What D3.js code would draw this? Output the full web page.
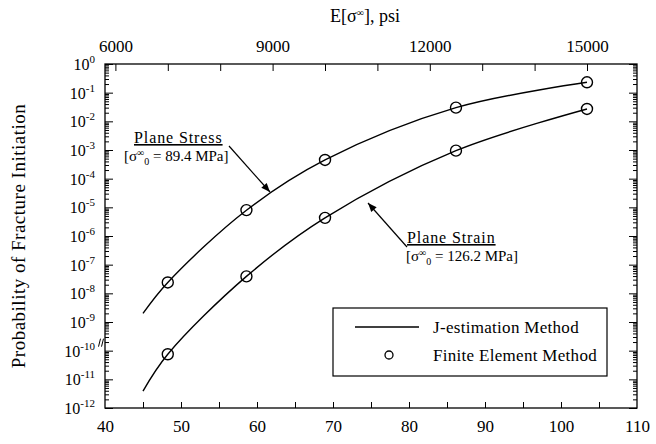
<!DOCTYPE html>
<html>
<head>
<meta charset="utf-8">
<script src="https://cdn.jsdelivr.net/npm/d3@7"></script>
<style>
  body { margin: 0; background: #fff; }
</style>
</head>
<body>
<div id="chart"></div>
<script>
// stress in MPa where FE analyses were run (7000, 8500, 10000, 12500, 15000 psi)
const feStress = [48.26, 58.61, 68.95, 86.18, 103.42];
const fePlaneStress = [2.4e-8, 8e-6, 4.5e-4, 3.0e-2, 0.23];
const fePlaneStrain = [7.5e-11, 3.9e-8, 4.3e-6, 9.5e-4, 2.7e-2];

// J-estimation curves
const curveStress = [45, 48.26, 58.61, 68.95, 86.18, 103.42];
const curvePlaneStress = [2.0e-9, 2.4e-8, 7.9e-6, 4.5e-4, 3.0e-2, 0.23];
const curvePlaneStrain = [3.9e-12, 7.5e-11, 3.9e-8, 4.3e-6, 9.5e-4, 2.7e-2];

const xTicks = [40, 50, 60, 70, 80, 90, 100, 110];
const psiTicks = [6000, 9000, 12000, 15000];
const yExponents = [0, -1, -2, -3, -4, -5, -6, -7, -8, -9, -10, -11, -12];

const width = 656, height = 444;
const margin = { left: 105, right: 19, top: 64, bottom: 36 };
const MPA_TO_PSI = 145.038;
const FONT = '"Liberation Serif", "DejaVu Serif", "Times New Roman", serif';

const svg = d3.select('#chart').append('svg')
    .attr('width', width)
    .attr('height', height)
    .attr('font-family', FONT);

const x = d3.scaleLinear().domain([40, 110]).range([margin.left, width - margin.right]);
const xPsi = d3.scaleLinear().domain([40 * MPA_TO_PSI, 110 * MPA_TO_PSI]).range(x.range());
const y = d3.scaleLog().domain([1e-12, 1]).range([height - margin.bottom, margin.top]);

const x0 = x.range()[0], x1 = x.range()[1];
const yTop = y.range()[1], yBot = y.range()[0];

// frame
svg.append('rect')
    .attr('x', x0).attr('y', yTop)
    .attr('width', x1 - x0).attr('height', yBot - yTop)
    .attr('fill', 'none').attr('stroke', '#000').attr('stroke-width', 1.3);

function styleAxis(g) {
    g.select('.domain').remove();
    g.attr('font-family', FONT);
    g.selectAll('.tick line').attr('stroke', '#000').attr('stroke-width', 1);
    g.selectAll('.tick text').attr('fill', '#000');
}

// bottom axis: ticks every 5 MPa, labels every 10
const minorX = d3.range(45, 110, 5);
svg.append('g')
    .attr('transform', `translate(0,${yBot})`)
    .call(d3.axisBottom(x).tickValues(minorX).tickSize(-6).tickFormat(''))
    .call(styleAxis);
svg.append('g')
    .attr('transform', `translate(0,${yBot})`)
    .call(d3.axisBottom(x).tickValues(xTicks).tickSize(0).tickPadding(12).tickFormat(d3.format('d')))
    .call(styleAxis)
    .selectAll('text').attr('font-size', 17);

// top axis in psi
svg.append('g')
    .attr('transform', `translate(0,${yTop})`)
    .call(d3.axisTop(xPsi).tickValues(d3.range(6000, 15001, 1000)).tickSize(-7).tickFormat(''))
    .call(styleAxis);
svg.append('g')
    .attr('transform', `translate(0,${yTop})`)
    .call(d3.axisTop(xPsi).tickValues(psiTicks).tickSize(0).tickPadding(12).tickFormat(d3.format('d')))
    .call(styleAxis)
    .selectAll('text').attr('font-size', 17);

const title = svg.append('text')
    .attr('x', (x0 + x1) / 2 - 6).attr('y', 22)
    .attr('text-anchor', 'middle').attr('font-size', 18);
title.append('tspan').text('E[σ');
title.append('tspan').attr('font-size', 10).attr('dy', -6).text('∞');
title.append('tspan').attr('dy', 6).text('], psi');

// y axis, log ticks both sides
const majorY = yExponents.map(e => Math.pow(10, e));
const minorY = [];
yExponents.slice(0, -1).forEach(e => {
    for (let m = 2; m < 10; m++) minorY.push(m * Math.pow(10, e - 1));
});
[[d3.axisLeft, x0], [d3.axisRight, x1]].forEach(([axisFn, pos]) => {
    svg.append('g')
        .attr('transform', `translate(${pos},0)`)
        .call(axisFn(y).tickValues(minorY).tickSize(-4).tickFormat(''))
        .call(styleAxis);
    svg.append('g')
        .attr('transform', `translate(${pos},0)`)
        .call(axisFn(y).tickValues(majorY).tickSize(-8).tickFormat(''))
        .call(styleAxis);
});

const yLabels = svg.append('g');
yExponents.forEach(e => {
    const t = yLabels.append('text')
        .attr('x', x0 - 10).attr('y', y(Math.pow(10, e)) + 6)
        .attr('text-anchor', 'end').attr('font-size', 16);
    t.append('tspan').text('10');
    t.append('tspan').attr('font-size', 11).attr('dy', -7).text(String(e));
});

// small double stroke beside the axis near 1e-10
const brk = svg.append('g').attr('stroke', '#000').attr('stroke-width', 1);
[-1.5, 1.5].forEach(dx => {
    const cx = x0 - 4 + dx, cy = y(1e-10) - 8;
    brk.append('line')
        .attr('x1', cx + 1).attr('y1', cy - 4)
        .attr('x2', cx - 1).attr('y2', cy + 4);
});

svg.append('text')
    .attr('transform', `translate(25,${(yTop + yBot) / 2}) rotate(-90)`)
    .attr('text-anchor', 'middle').attr('font-size', 19)
    .attr('letter-spacing', 0.5)
    .text('Probability of Fracture Initiation');

// J-estimation curves
const line = d3.line()
    .x(d => x(d[0]))
    .y(d => y(d[1]))
    .curve(d3.curveCatmullRom.alpha(0.5));

[curvePlaneStress, curvePlaneStrain].forEach(vals => {
    svg.append('path')
        .datum(curveStress.map((s, i) => [s, vals[i]]))
        .attr('d', line)
        .attr('fill', 'none').attr('stroke', '#000').attr('stroke-width', 1.4);
});

// finite element points
[fePlaneStress, fePlaneStrain].forEach(vals => {
    svg.append('g').selectAll('circle')
        .data(feStress.map((s, i) => [s, vals[i]]))
        .enter().append('circle')
        .attr('cx', d => x(d[0])).attr('cy', d => y(d[1]))
        .attr('r', 5.5)
        .attr('fill', 'none').attr('stroke', '#000').attr('stroke-width', 1.4);
});

// annotations
svg.append('defs').append('marker')
    .attr('id', 'arrow').attr('viewBox', '0 0 10 10')
    .attr('refX', 10).attr('refY', 5)
    .attr('markerWidth', 11).attr('markerHeight', 9)
    .attr('markerUnits', 'userSpaceOnUse')
    .attr('orient', 'auto')
    .append('path').attr('d', 'M0,1 L10,5 L0,9 Z').attr('fill', '#000');

function annotate(label, sub, tx, ty, sx, from, to) {
    const g = svg.append('g');
    g.append('text').attr('x', tx).attr('y', ty).attr('font-size', 16)
        .attr('letter-spacing', 0.9)
        .attr('text-decoration', 'underline').text(label);
    const s = g.append('text').attr('x', sx).attr('y', ty + 18).attr('font-size', 15);
    s.append('tspan').text('[σ');
    s.append('tspan').attr('font-size', 10).attr('dy', -5).text('∞');
    s.append('tspan').attr('font-size', 10).attr('dy', 9).text('0');
    s.append('tspan').attr('dy', -4).text(' = ' + sub + ' MPa]');
    g.append('line')
        .attr('x1', from[0]).attr('y1', from[1])
        .attr('x2', to[0]).attr('y2', to[1])
        .attr('stroke', '#000').attr('stroke-width', 1.2)
        .attr('marker-end', 'url(#arrow)');
}

annotate('Plane Stress', '89.4', 134, 143, 124, [229, 146], [270, 192]);
annotate('Plane Strain', '126.2', 407, 243, 406, [407, 247], [368, 203]);

// legend
const legend = svg.append('g');
legend.append('rect')
    .attr('x', 333).attr('y', 308).attr('width', 274).attr('height', 68)
    .attr('fill', '#fff').attr('stroke', '#000').attr('stroke-width', 1.2);
legend.append('line')
    .attr('x1', 355).attr('x2', 419).attr('y1', 327).attr('y2', 327)
    .attr('stroke', '#000').attr('stroke-width', 1.4);
legend.append('text').attr('x', 433).attr('y', 333).attr('font-size', 17)
    .attr('letter-spacing', 0.3).text('J-estimation Method');
legend.append('circle')
    .attr('cx', 389).attr('cy', 355).attr('r', 4)
    .attr('fill', 'none').attr('stroke', '#000').attr('stroke-width', 1.3);
legend.append('text').attr('x', 433).attr('y', 361).attr('font-size', 17)
    .attr('letter-spacing', 0.3).text('Finite Element Method');
</script>
</body>
</html>
